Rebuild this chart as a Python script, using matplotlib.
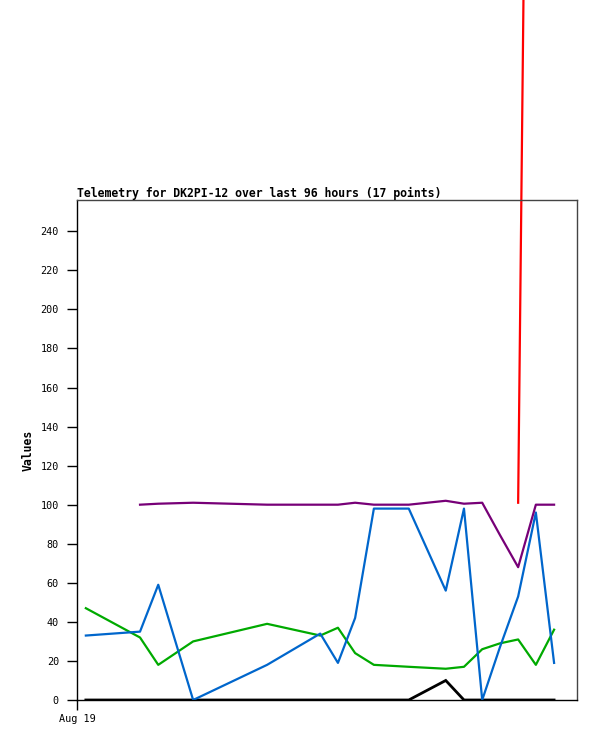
import numpy as np
from matplotlib import pyplot as plt

# hours since the start of the 96 hour window (17 telemetry points)
hours = [1.7, 12.1, 15.6, 22.3, 36.5, 46.7, 50.1, 53.4, 57.0,
         63.7, 70.8, 74.3, 77.8, 81.2, 84.7, 88.1, 91.6]

nan = np.nan
# one list per telemetry channel
blue = [33, 35, 59, 0, 18, 34, 19, 42, 98, 98, 56, 98, 0, 27, 53, 96, 19]
green = [47, 32, 18, 30, 39, 33, 37, 24, 18, 17, 16, 17, 26, 29, 31, 18, 36]
purple = [nan, 100, 100.5, 101, 100, 100, 100, 101, 100, 100, 102, 100.5,
          101, 84.5, 68, 100, 100]
red = [nan, nan, nan, nan, nan, nan, nan, nan, nan, nan, nan, nan,
       nan, nan, 101, 960, nan]
black = [0, 0, 0, 0, 0, 0, 0, 0, 0, 0, 10, 0, 0, 0, 0, 0, 0]

yticks = list(range(0, 241, 20))
title = "Telemetry for DK2PI-12 over last 96 hours (17 points)"

mono = "DejaVu Sans Mono"

fig = plt.figure(figsize=(5.97, 7.41), dpi=100)
ax = fig.add_axes([77/597, 41/741, 500/597, 500/741])

lw = 1.6
ax.plot(hours, black, color="black", lw=lw + 0.4, solid_joinstyle="miter")
ax.plot(hours, green, color="#00aa00", lw=lw)
ax.plot(hours, blue, color="#0066cc", lw=lw)
ax.plot(hours, purple, color="#770077", lw=lw)
ax.plot(hours, red, color="#ff0000", lw=lw, clip_on=False)

ax.set_xlim(0, 96)
ax.set_ylim(0, 256)

ax.set_yticks(yticks)
ax.set_yticklabels([str(v) for v in yticks], fontfamily=mono, fontsize=7.3)
ax.set_xticks([0])
ax.set_xticklabels(["Aug 19"], fontfamily=mono, fontsize=7.3)
ax.tick_params(axis="both", direction="out", length=7, width=1, color="black")
ax.tick_params(axis="y", pad=6)
ax.tick_params(axis="x", pad=3)

for side in ["top", "right"]:
    ax.spines[side].set_color("#444444")
    ax.spines[side].set_linewidth(1)
for side in ["left", "bottom"]:
    ax.spines[side].set_color("black")
    ax.spines[side].set_linewidth(1)

ax.set_title(title, loc="left", fontfamily=mono, fontweight="bold",
             fontsize=8.3, pad=2)
ax.set_ylabel("Values", fontfamily=mono, fontweight="bold", fontsize=8.3,
              labelpad=4)

fig.savefig("out.png", dpi=100)
